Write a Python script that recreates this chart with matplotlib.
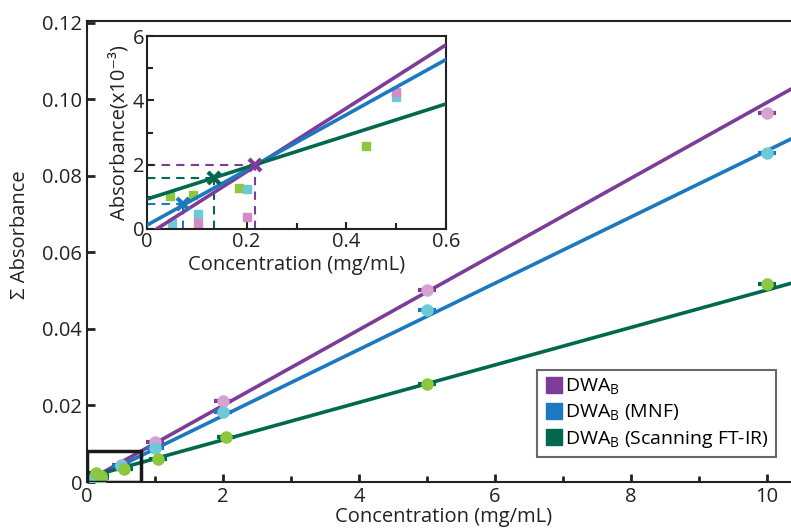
import matplotlib.pyplot as plt
import numpy as np
from matplotlib.patches import Rectangle

plt.rcParams['font.family'] = ['Open Sans', 'DejaVu Sans']
plt.rcParams['mathtext.fontset'] = 'custom'
plt.rcParams['mathtext.rm'] = 'Open Sans'

# Full concentration series (mg/mL) and summed absorbance
conc = [0.1, 0.2, 0.5, 1, 2, 5, 10]
abs_dwa = [0.0010, 0.0012, 0.0044, 0.0104, 0.0211, 0.0503, 0.0965]
abs_mnf = [0.0008, 0.0010, 0.0041, 0.0089, 0.0183, 0.0449, 0.0861]
abs_ftir = [0.0023, 0.0016, 0.0034, 0.0060, 0.0117, 0.0256, 0.0517]
conc_ftir = [0.13, 0.2, 0.55, 1.04, 2.04, 5.0, 10.0]

# Linear fits (slope, intercept) over the full range
fit_dwa = (0.0099, 0.0002)
fit_mnf = (0.00866, 0.0)
fit_ftir = (0.0049, 0.0012)

# Low concentration region (absorbance x10^-3)
low_conc_ftir = [0.046, 0.092, 0.185, 0.44]
low_abs_ftir = [1.03, 1.05, 1.27, 2.59]
low_conc_mnf = [0.051, 0.102, 0.20, 0.50]
low_abs_mnf = [0.18, 0.46, 1.23, 4.09]
low_conc_dwa = [0.102, 0.20, 0.50]
low_abs_dwa = [0.20, 0.38, 4.27]

# Low range fits (slope, intercept) and limit-of-detection points
low_fit_dwa = (9.86, -0.19)
low_fit_mnf = (8.58, 0.12)
low_fit_ftir = (4.93, 0.93)
lod_x = [0.217, 0.073, 0.134]
lod_y = [2.0, 0.78, 1.6]

purple, blue, green = '#7d3c98', '#1c79c0', '#00694d'
pale_purple, pale_blue, pale_green = '#d6a2cf', '#6dc9d6', '#8dc63f'

fig = plt.figure(figsize=(7.91, 5.32), dpi=100)
# axes run a little past the right edge, so the right spine is cut off
ax = fig.add_axes([87 / 791, 50 / 532, 714 / 791, 461 / 532])

xx = np.linspace(0, 10.5, 50)
for (m, b), c in [(fit_dwa, purple), (fit_mnf, blue), (fit_ftir, green)]:
    ax.plot(xx, m * xx + b, color=c, lw=2.6, zorder=2)

for x, y, dark, pale in [(conc, abs_dwa, purple, pale_purple),
                         (conc, abs_mnf, blue, pale_blue),
                         (conc_ftir, abs_ftir, green, pale_green)]:
    ax.errorbar(x, y, xerr=0.13, fmt='none', ecolor=dark, elinewidth=3, zorder=3)
    ax.plot(x, y, 'o', ms=9, color=pale, mec='none', zorder=4)

ax.add_patch(Rectangle((0, 0), 0.8, 0.008, fill=False, ec='#1a1a1a', lw=2.5, zorder=5))

ax.set_xlim(0, 10.5)
ax.set_ylim(0, 0.1205)
ax.set_xticks([0, 2, 4, 6, 8, 10])
ax.set_xticks([1, 3, 5, 7, 9], minor=True)
ax.set_yticks([0, 0.02, 0.04, 0.06, 0.08, 0.10, 0.12])
ax.set_yticklabels(['0', '0.02', '0.04', '0.06', '0.08', '0.10', '0.12'])
ax.tick_params(which='both', direction='in', width=2, labelsize=14.5, colors='#222222')
ax.tick_params(which='major', length=6)
ax.tick_params(which='minor', length=4)
for s in ax.spines.values():
    s.set_linewidth(1.5)
    s.set_color('#222222')
ax.set_xlabel('Concentration (mg/mL)', fontsize=14.5, labelpad=0, color='#222222')
ax.set_ylabel('Σ Absorbance', fontsize=14.5, color='#222222')
ax.yaxis.set_label_coords(-0.08, 0.537)

handles = [plt.Line2D([], [], ls='none', marker='s', ms=12, color=c) for c in (purple, blue, green)]
labels = [r'DWA$_\mathregular{B}$', r'DWA$_\mathregular{B}$ (MNF)',
          r'DWA$_\mathregular{B}$ (Scanning FT-IR)']
leg = ax.legend(handles, labels, loc='lower right', bbox_to_anchor=(0.965, 0.055),
                fontsize=14, frameon=True, fancybox=False, edgecolor='#444444',
                handletextpad=0.1, borderpad=0.35, labelspacing=0.3, handlelength=1.0,
                borderaxespad=0)
leg.get_frame().set_linewidth(1.5)

# Inset: low concentration region
ins = fig.add_axes([147 / 791, 303 / 532, 299 / 791, 193 / 532])
xi = np.linspace(0, 0.6, 20)
for (m, b), c in [(low_fit_dwa, purple), (low_fit_mnf, blue), (low_fit_ftir, green)]:
    ins.plot(xi, m * xi + b, color=c, lw=2.6, zorder=3)

ins.plot(low_conc_ftir, low_abs_ftir, 's', ms=6, color=pale_green, zorder=2)
ins.plot(low_conc_mnf, low_abs_mnf, 's', ms=6, color=pale_blue, zorder=2)
ins.plot(low_conc_dwa, low_abs_dwa, 's', ms=6, color='#d48ac4', zorder=2)

for x, y, c in zip(lod_x, lod_y, [purple, blue, green]):
    ins.plot([0, x], [y, y], ls=(0, (4, 3)), color=c, lw=1.5, zorder=1)
    ins.plot([x, x], [0, y], ls=(0, (4, 3)), color=c, lw=1.5, zorder=1)
    ins.plot(x, y, 'x', ms=9, mew=3, color=c, zorder=4)

ins.set_xlim(0, 0.6)
ins.set_ylim(0, 6)
ins.set_xticks([0, 0.2, 0.4, 0.6])
ins.set_xticklabels(['0', '0.2', '0.4', '0.6'])
ins.set_xticks([0.1, 0.3, 0.5], minor=True)
ins.set_yticks([0, 2, 4, 6])
ins.set_yticks([1, 3, 5], minor=True)
ins.tick_params(which='both', direction='in', width=1.5, labelsize=14.5, colors='#222222', pad=2)
ins.tick_params(which='major', length=5)
ins.tick_params(which='minor', length=4)
for s in ins.spines.values():
    s.set_linewidth(1.5)
    s.set_color('#222222')
ins.set_xlabel('Concentration (mg/mL)', fontsize=14.5, labelpad=2, color='#222222')
ins.set_ylabel('Absorbance(x10⁻³)', fontsize=14.5, labelpad=2, color='#222222')

fig.savefig('out.png', dpi=100)
